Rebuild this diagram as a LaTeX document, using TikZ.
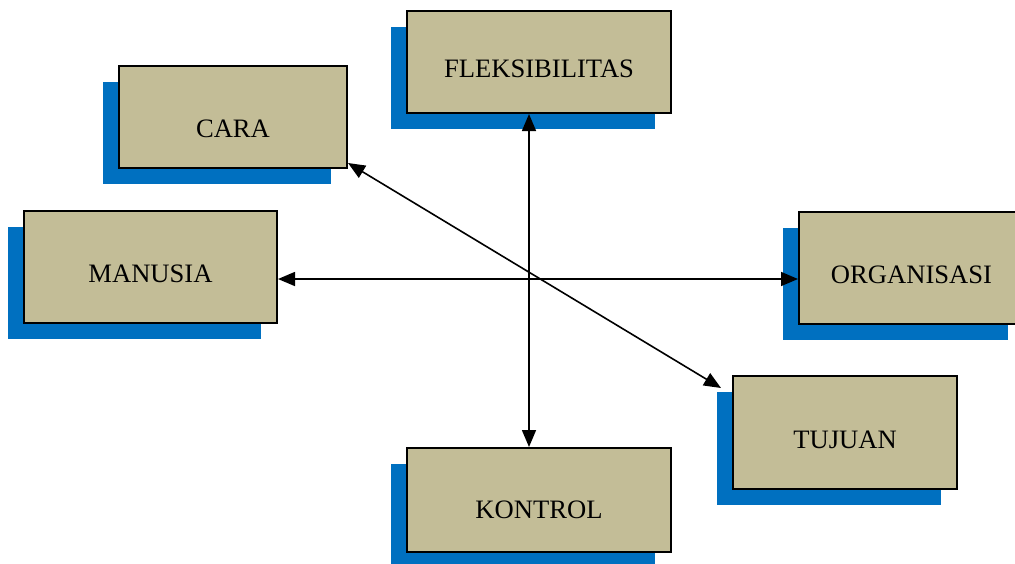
\documentclass[tikz,border=0pt]{standalone}
\usepackage{fontspec}
\setmainfont{Liberation Serif}
\usetikzlibrary{arrows.meta,shadows}
\definecolor{boxtan}{RGB}{195,189,151}
\definecolor{shadeblue}{RGB}{0,112,192}
\begin{document}
\begin{tikzpicture}[x=0.5pt,y=-0.5pt,
conceptbox/.style={draw,rectangle,fill=boxtan,line width=1pt,inner sep=0pt,
  font=\fontsize{13.3}{16}\selectfont,text height=17.8pt,text depth=2pt,
  general shadow={fill=shadeblue,shadow xshift=-8pt,shadow yshift=-8pt}},
link/.style={line width=0.8pt,{Triangle[length=8.5pt,width=7pt]}-{Triangle[length=8.5pt,width=7pt]}}]
\useasboundingbox (0,0) rectangle (1015,563);

\draw (233,117) node[conceptbox,minimum width=114pt,minimum height=51pt,text height=22.8pt] (cara) {CARA};
\draw (539,62) node[conceptbox,minimum width=132pt,minimum height=51pt] (fleks) {FLEKSIBILITAS};
\draw (150.5,267) node[conceptbox,minimum width=126.5pt,minimum height=56pt] (manusia) {MANUSIA};
\draw (911.5,268) node[conceptbox,minimum width=112.5pt,minimum height=56pt] (org) {ORGANISASI};
\draw (845,432.5) node[conceptbox,minimum width=112pt,minimum height=56.5pt] (tujuan) {TUJUAN};
\draw (539,500) node[conceptbox,minimum width=132pt,minimum height=52pt,text height=20pt] (kontrol) {KONTROL};

\draw[link] ([xshift=-5pt]fleks.south) -- ([xshift=-5pt]kontrol.north);
\draw[link] ([yshift=-6pt]manusia.east) -- ([yshift=-5.5pt]org.west);
\draw[link] ([yshift=3pt]cara.south east) -- ([xshift=-5.5pt,yshift=-6.5pt]tujuan.north west);

\end{tikzpicture}
\end{document}
